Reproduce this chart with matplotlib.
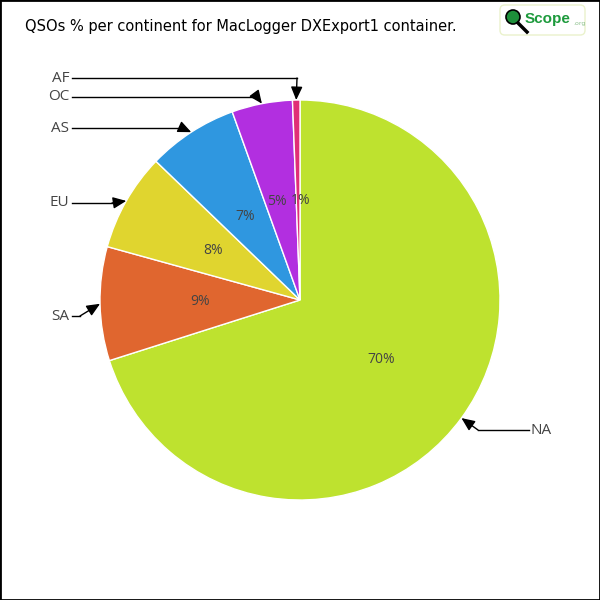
import matplotlib.pyplot as plt
from matplotlib.patches import FancyBboxPatch, Circle, Rectangle
import numpy as np

# data (percent of QSOs)
continents = ['NA', 'SA', 'EU', 'AS', 'OC', 'AF']
shares = [70.1, 9.2, 7.9, 7.3, 4.9, 0.6]
colors = ['#bee22f', '#e0662f', '#e0d52f', '#2f97e0', '#b22fe0', '#e02f77']
title = 'QSOs % per continent for MacLogger DXExport1 container.'

# label layout (pixel rows of label text, knee x of leader line)
label_y = {'AF': 78, 'OC': 97, 'AS': 128, 'EU': 203, 'SA': 316, 'NA': 430}
knee_x = {'AF': 297, 'OC': 257, 'AS': 182, 'EU': 112, 'SA': 80, 'NA': 478}


def px(x, y):
    # pixel position -> data coords (center 300,300 ; radius 200px)
    return (x - 300) / 200, (300 - y) / 200


fig = plt.figure(figsize=(6, 6), dpi=100)
ax = fig.add_axes([0, 0, 1, 1])

wedges, texts, autotexts = ax.pie(
    shares, colors=colors, startangle=90, counterclock=False,
    autopct='%.0f%%', pctdistance=0.5, radius=1,
    wedgeprops=dict(edgecolor='white', linewidth=1),
    textprops=dict(fontsize=10, color='#444444', family='Open Sans'))
ax.set_xlim(-1.5, 1.5)
ax.set_ylim(-1.5, 1.5)
ax.set_aspect('equal')
ax.axis('off')

# small slices sit side by side: nudge them apart a little
x5, y5 = autotexts[4].get_position()
autotexts[4].set_position((x5 - 0.02, y5))
x1, y1 = autotexts[5].get_position()
autotexts[5].set_position((x1 + 0.01, y1))

for w, name in zip(wedges, continents):
    mid = np.deg2rad((w.theta1 + w.theta2) / 2)
    tip = (np.cos(mid), np.sin(mid))
    ky = label_y[name]
    knee = px(knee_x[name], ky)
    if name == 'NA':
        start = px(529, ky)
        ax.text(*px(531, ky), name, ha='left', va='center', fontsize=11,
                color='#444444', family='Open Sans')
    else:
        start = px(72, ky)
        ax.text(*px(69, ky), name, ha='right', va='center', fontsize=11,
                color='#444444', family='Open Sans')
    ax.plot([start[0], knee[0]], [start[1], knee[1]], color='black', lw=1)
    ax.annotate('', xy=tip, xytext=knee,
                arrowprops=dict(arrowstyle='-|>,head_length=0.8,head_width=0.35',
                                color='black', lw=1, shrinkA=0, shrinkB=0))

# title
fig.text(25 / 600, 1 - 26 / 600, title, ha='left', va='center', fontsize=10.5,
         color='black', family='DejaVu Sans')

# logo
logo = FancyBboxPatch((500 / 600, 1 - 35 / 600), 85 / 600, 30 / 600,
                      boxstyle='round,pad=0,rounding_size=0.008',
                      transform=fig.transFigure, facecolor='white',
                      edgecolor='#eaf2cc', lw=1)
fig.patches.append(logo)
fig.lines.append(plt.Line2D([518 / 600, 527 / 600], [1 - 23 / 600, 1 - 32 / 600],
                            transform=fig.transFigure, color='black', lw=2.5))
fig.patches.append(Circle((513 / 600, 1 - 17 / 600), 7 / 600,
                          transform=fig.transFigure, facecolor='#1d8f3a',
                          edgecolor='black', lw=1.2))
fig.text(525 / 600, 1 - 19 / 600, 'Scope', ha='left', va='center', fontsize=11,
         fontweight='bold', color='#1d9a3c', family='Liberation Sans')
fig.text(573 / 600, 1 - 24 / 600, '.org', ha='left', va='center', fontsize=4.5,
         color='#8cc08c', family='DejaVu Sans')

# figure border
fig.patches.append(Rectangle((0, 0), 1, 1, transform=fig.transFigure,
                             fill=False, edgecolor='black', lw=2))

fig.savefig('out.png', dpi=100, facecolor='white')
